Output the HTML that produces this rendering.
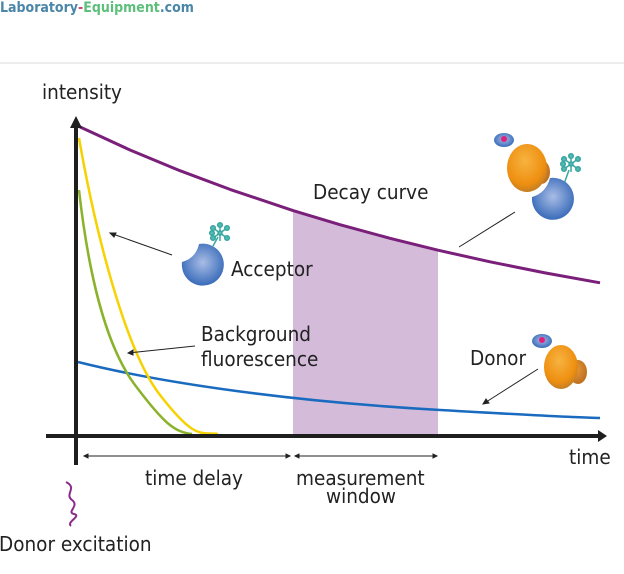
<!DOCTYPE html>
<html><head><meta charset="utf-8"><style>
html,body{margin:0;padding:0;background:#fff;}
svg{display:block;}
text{font-family:"DejaVu Sans Condensed","Liberation Sans",sans-serif;fill:#222;}
</style></head><body>
<svg width="624" height="574" viewBox="0 0 624 574" xmlns="http://www.w3.org/2000/svg">
<defs>
<radialGradient id="bl" cx="0.5" cy="0.45" r="0.6"><stop offset="0" stop-color="#a9bde6"/><stop offset="1" stop-color="#2f64b5"/></radialGradient>
<radialGradient id="or" cx="0.45" cy="0.35" r="0.7"><stop offset="0" stop-color="#f7b340"/><stop offset="0.7" stop-color="#ee8f10"/><stop offset="1" stop-color="#b77a2a"/></radialGradient>
<radialGradient id="or2" cx="0.4" cy="0.4" r="0.7"><stop offset="0" stop-color="#e89a3a"/><stop offset="1" stop-color="#b8691c"/></radialGradient>
<g id="ast" stroke="#3aa6a0" stroke-width="1.5" fill="#4fbcb5">
<line x1="-7" y1="-5" x2="7" y2="5"/><line x1="7" y1="-5" x2="-7" y2="5"/><line x1="0" y1="-8" x2="0" y2="8"/>
<circle cx="-7" cy="-5" r="2.3"/><circle cx="7" cy="5" r="2.3"/><circle cx="7" cy="-5" r="2.3"/><circle cx="-7" cy="5" r="2.3"/><circle cx="0" cy="-8" r="2.3"/><circle cx="-8" cy="0" r="2.3"/><circle cx="0" cy="0" r="2"/>
</g>
</defs>
<text x="0" y="12" font-size="14" font-weight="bold" fill="#4a86a8"><tspan fill="#4a86a8">Laboratory</tspan><tspan fill="#d2466a">-</tspan><tspan fill="#5cbf7a">Equipment</tspan><tspan fill="#4a86a8">.com</tspan></text>
<path d="M0 63 L624 63" stroke="#ececec" stroke-width="2"/>

<polygon points="293,210.6 340,224.7 390,238.3 438,250.2 438,436 293,436" fill="#d3bbd9"/>

<polyline points="78,126 130,150 180,170.7 230,189.4 293,210.6 340,224.7 390,238.3 438,250.2 490,261.8 545,272.9 600,282.8" fill="none" stroke="#7a1f7a" stroke-width="3" stroke-linejoin="round"/>
<path d="M78 362 C 170 385, 300 402, 440 410 S 570 417, 600 418" fill="none" stroke="#1a6bbf" stroke-width="2.5"/>
<path d="M79 138 C 95 230, 125 350, 160 395 S 200 432, 218 434" fill="none" stroke="#f5d200" stroke-width="2.5"/>
<path d="M79 190 C 88 270, 105 345, 135 385 S 175 432, 192 434" fill="none" stroke="#8ab22a" stroke-width="2.5"/>

<line x1="76" y1="122" x2="76" y2="465" stroke="#1e1e1e" stroke-width="4"/>
<path d="M70 128 L76 116 L82 128 Z" fill="#1e1e1e"/>
<line x1="46" y1="436" x2="600" y2="436" stroke="#1e1e1e" stroke-width="4"/>
<path d="M598 430 L607 436 L598 442 Z" fill="#1e1e1e"/>

<g stroke="#222" stroke-width="1" fill="#222">
<line x1="172" y1="255" x2="110" y2="233"/><path d="M110 233 l6 0 l-2 4z"/>
<line x1="195" y1="346" x2="128" y2="353"/><path d="M128 353 l5 -3 l0 5z"/>
<line x1="459" y1="247" x2="515" y2="212"/>
<line x1="538" y1="369" x2="483" y2="404"/><path d="M483 404 l3 -5 l3 4z"/>
<line x1="84" y1="456" x2="290" y2="456"/><path d="M84 456 l4 -2 v4z M290 456 l-4 -2 v4z"/>
<line x1="295" y1="456" x2="437" y2="456"/><path d="M295 456 l4 -2 v4z M437 456 l-4 -2 v4z"/>
</g>

<path d="M66 482 C 78 488, 64 494, 72 500 S 66 512, 74 514 S 66 522, 71 526" fill="none" stroke="#8a2b8a" stroke-width="2"/>

<g font-size="20.5">
<text x="42" y="99">intensity</text>
<text x="313" y="199">Decay curve</text>
<text x="231" y="276">Acceptor</text>
<text x="201" y="341">Background</text>
<text x="201" y="366">fluorescence</text>
<text x="470" y="365">Donor</text>
<text x="569" y="464">time</text>
<text x="145" y="485">time delay</text>
<text x="296" y="485">measurement</text>
<text x="326" y="503">window</text>
<text x="-1" y="551">Donor excitation</text>
</g>

<!-- acceptor -->
<line x1="213" y1="246" x2="218" y2="237" stroke="#3aa6a0" stroke-width="1.5"/>
<use href="#ast" x="220" y="233"/>
<path d="M182 262 A21 21 0 1 0 199 244 Q 196 258 182 262 Z" fill="url(#bl)"/>

<!-- complex -->
<ellipse cx="504" cy="140" rx="10" ry="7" fill="url(#bl)"/><circle cx="504" cy="139" r="3" fill="#e0207a"/>
<ellipse cx="541" cy="172" rx="9" ry="12" fill="url(#or2)"/>
<ellipse cx="527" cy="168" rx="20" ry="24" fill="url(#or)"/>
<line x1="564" y1="184" x2="569" y2="170" stroke="#3aa6a0" stroke-width="1.5"/>
<use href="#ast" x="571" y="164"/>
<path d="M532 197 A21 21 0 1 0 550 178 Q 546 193 532 197 Z" fill="url(#bl)"/>

<!-- donor -->
<ellipse cx="542" cy="341" rx="10" ry="7" fill="url(#bl)"/><circle cx="542" cy="340" r="3" fill="#e0207a"/>
<ellipse cx="578" cy="372" rx="9" ry="12" fill="url(#or2)"/>
<ellipse cx="561" cy="367" rx="17" ry="22" fill="url(#or)"/>
</svg>
</body></html>
